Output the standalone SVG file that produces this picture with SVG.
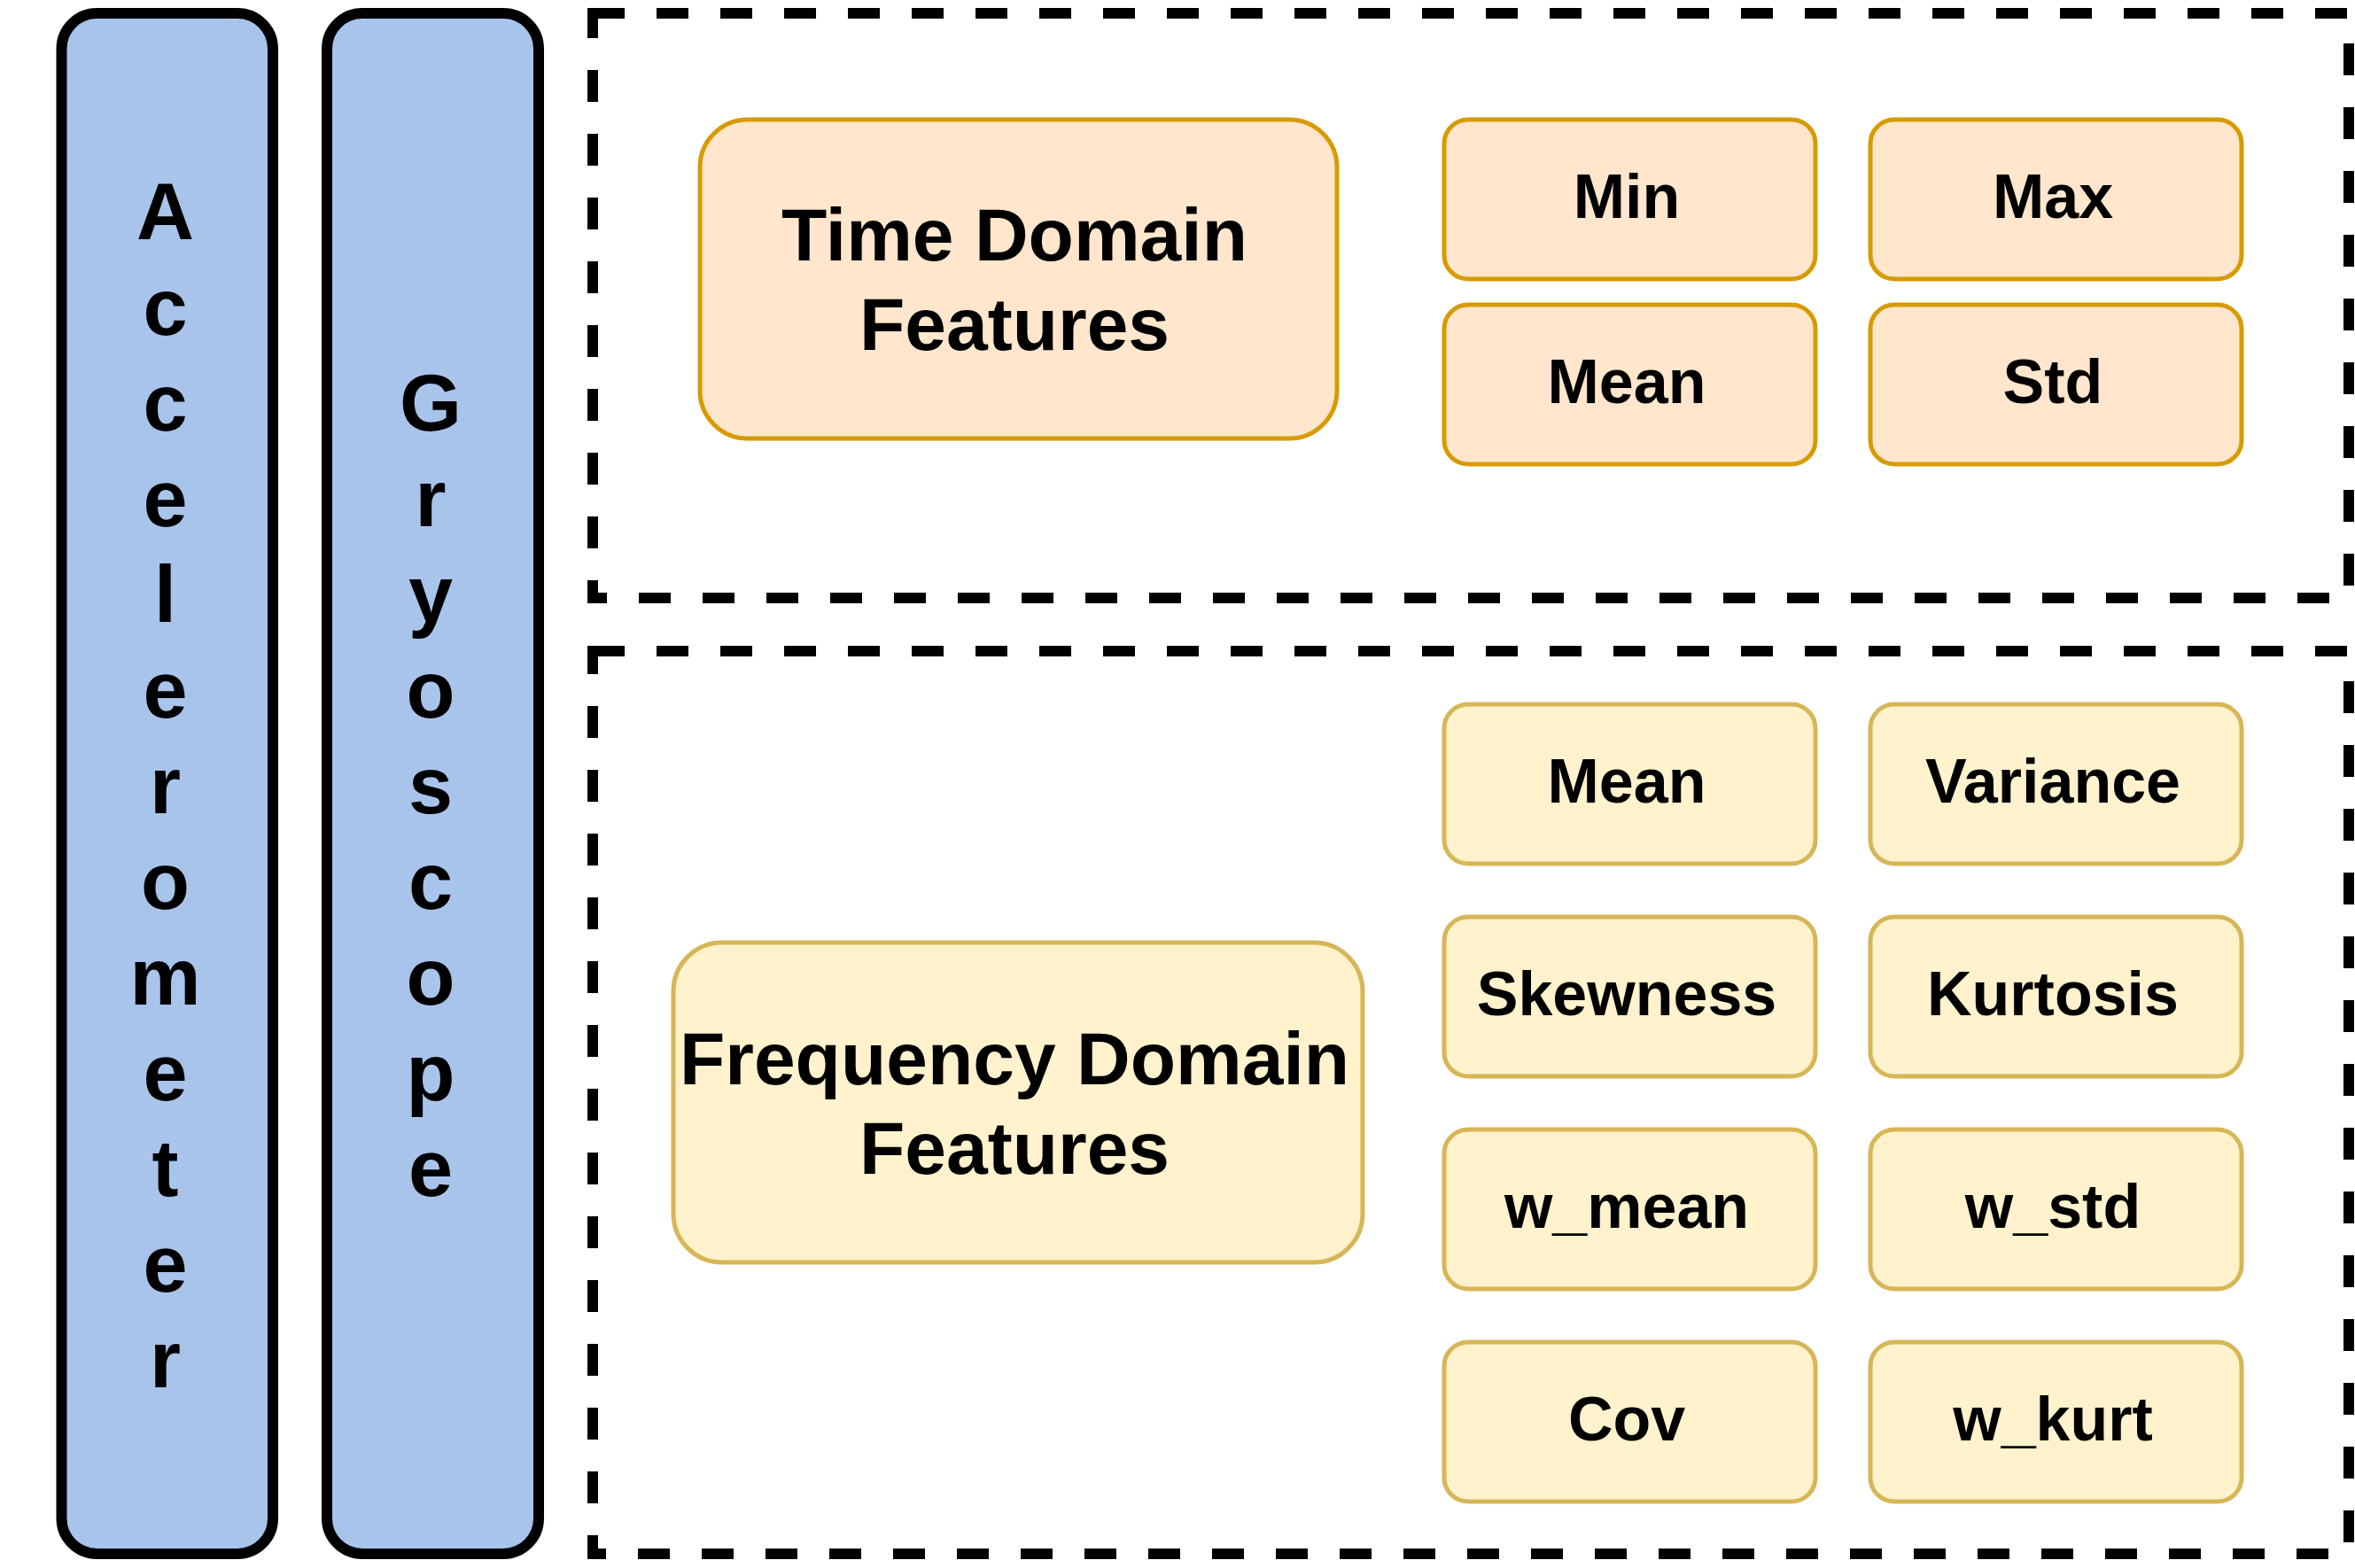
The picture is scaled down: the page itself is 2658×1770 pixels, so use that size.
<svg xmlns="http://www.w3.org/2000/svg" width="2658" height="1770" viewBox="0 0 2658 1770">
<style>
  .sensor { fill: #A9C4EB; stroke: #000000; stroke-width: 12; }
  .group { fill: none; stroke: #000000; stroke-width: 12; stroke-dasharray: 36 36; }
  .time { fill: #FFE6CC; stroke: #D79B00; stroke-width: 5; }
  .freq { fill: #FFF2CC; stroke: #D6B656; stroke-width: 5; }
  text { font-family: "Liberation Sans", Arial, Helvetica, sans-serif; font-weight: bold; fill: #000000; text-anchor: middle; }
  .vt { font-size: 90px; }
  .big { font-size: 84px; }
  .small { font-size: 70px; }
</style>
<rect width="2658" height="1770" fill="#FFFFFF"/>

<g id="time-domain-container">
  <rect class="group" x="669" y="15" width="1982" height="660"/>
</g>
<g id="frequency-domain-container">
  <rect class="group" x="669" y="735" width="1982" height="1019"/>
</g>

<g id="accelerometer">
  <rect class="sensor" x="69.5" y="15" width="238.5" height="1739" rx="40" ry="40"/>
  <text class="vt"><tspan x="186.5" y="270">A</tspan><tspan x="186.5" y="378">c</tspan><tspan x="186.5" y="486">c</tspan><tspan x="186.5" y="594">e</tspan><tspan x="186.5" y="702">l</tspan><tspan x="186.5" y="810">e</tspan><tspan x="186.5" y="918">r</tspan><tspan x="186.5" y="1026">o</tspan><tspan x="186.5" y="1134">m</tspan><tspan x="186.5" y="1242">e</tspan><tspan x="186.5" y="1350">t</tspan><tspan x="186.5" y="1458">e</tspan><tspan x="186.5" y="1566">r</tspan></text>
</g>

<g id="gyroscope">
  <rect class="sensor" x="369" y="15" width="239" height="1739" rx="40" ry="40"/>
  <text class="vt"><tspan x="486" y="486">G</tspan><tspan x="486" y="594">r</tspan><tspan x="486" y="702">y</tspan><tspan x="486" y="810">o</tspan><tspan x="486" y="918">s</tspan><tspan x="486" y="1026">c</tspan><tspan x="486" y="1134">o</tspan><tspan x="486" y="1242">p</tspan><tspan x="486" y="1350">e</tspan></text>
</g>

<g id="time-domain-features">
  <rect class="time" x="790" y="135" width="719" height="360" rx="54" ry="54"/>
  <text class="big"><tspan x="1145" y="294">Time Domain</tspan><tspan x="1145" y="395">Features</tspan></text>
</g>
<g id="t-min">
  <rect class="time" x="1630" y="135" width="419" height="180" rx="27" ry="27"/>
  <text class="small" x="1836" y="246">Min</text>
</g>
<g id="t-max">
  <rect class="time" x="2111" y="135" width="419" height="180" rx="27" ry="27"/>
  <text class="small" x="2317" y="246">Max</text>
</g>
<g id="t-mean">
  <rect class="time" x="1630" y="344" width="419" height="180" rx="27" ry="27"/>
  <text class="small" x="1836" y="455">Mean</text>
</g>
<g id="t-std">
  <rect class="time" x="2111" y="344" width="419" height="180" rx="27" ry="27"/>
  <text class="small" x="2317" y="455">Std</text>
</g>

<g id="frequency-domain-features">
  <rect class="freq" x="760" y="1064" width="778" height="361" rx="55" ry="55"/>
  <text class="big"><tspan x="1145" y="1224">Frequency Domain</tspan><tspan x="1145" y="1325">Features</tspan></text>
</g>
<g id="f-mean">
  <rect class="freq" x="1630" y="795" width="419" height="180" rx="27" ry="27"/>
  <text class="small" x="1836" y="906">Mean</text>
</g>
<g id="f-variance">
  <rect class="freq" x="2111" y="795" width="419" height="180" rx="27" ry="27"/>
  <text class="small" x="2317" y="906">Variance</text>
</g>
<g id="f-skewness">
  <rect class="freq" x="1630" y="1035" width="419" height="180" rx="27" ry="27"/>
  <text class="small" x="1836" y="1146">Skewness</text>
</g>
<g id="f-kurtosis">
  <rect class="freq" x="2111" y="1035" width="419" height="180" rx="27" ry="27"/>
  <text class="small" x="2317" y="1146">Kurtosis</text>
</g>
<g id="f-w-mean">
  <rect class="freq" x="1630" y="1275" width="419" height="180" rx="27" ry="27"/>
  <text class="small" x="1836" y="1386">w_mean</text>
</g>
<g id="f-w-std">
  <rect class="freq" x="2111" y="1275" width="419" height="180" rx="27" ry="27"/>
  <text class="small" x="2317" y="1386">w_std</text>
</g>
<g id="f-cov">
  <rect class="freq" x="1630" y="1515" width="419" height="180" rx="27" ry="27"/>
  <text class="small" x="1836" y="1626">Cov</text>
</g>
<g id="f-w-kurt">
  <rect class="freq" x="2111" y="1515" width="419" height="180" rx="27" ry="27"/>
  <text class="small" x="2317" y="1626">w_kurt</text>
</g>

<g id="connectors"></g>
</svg>
